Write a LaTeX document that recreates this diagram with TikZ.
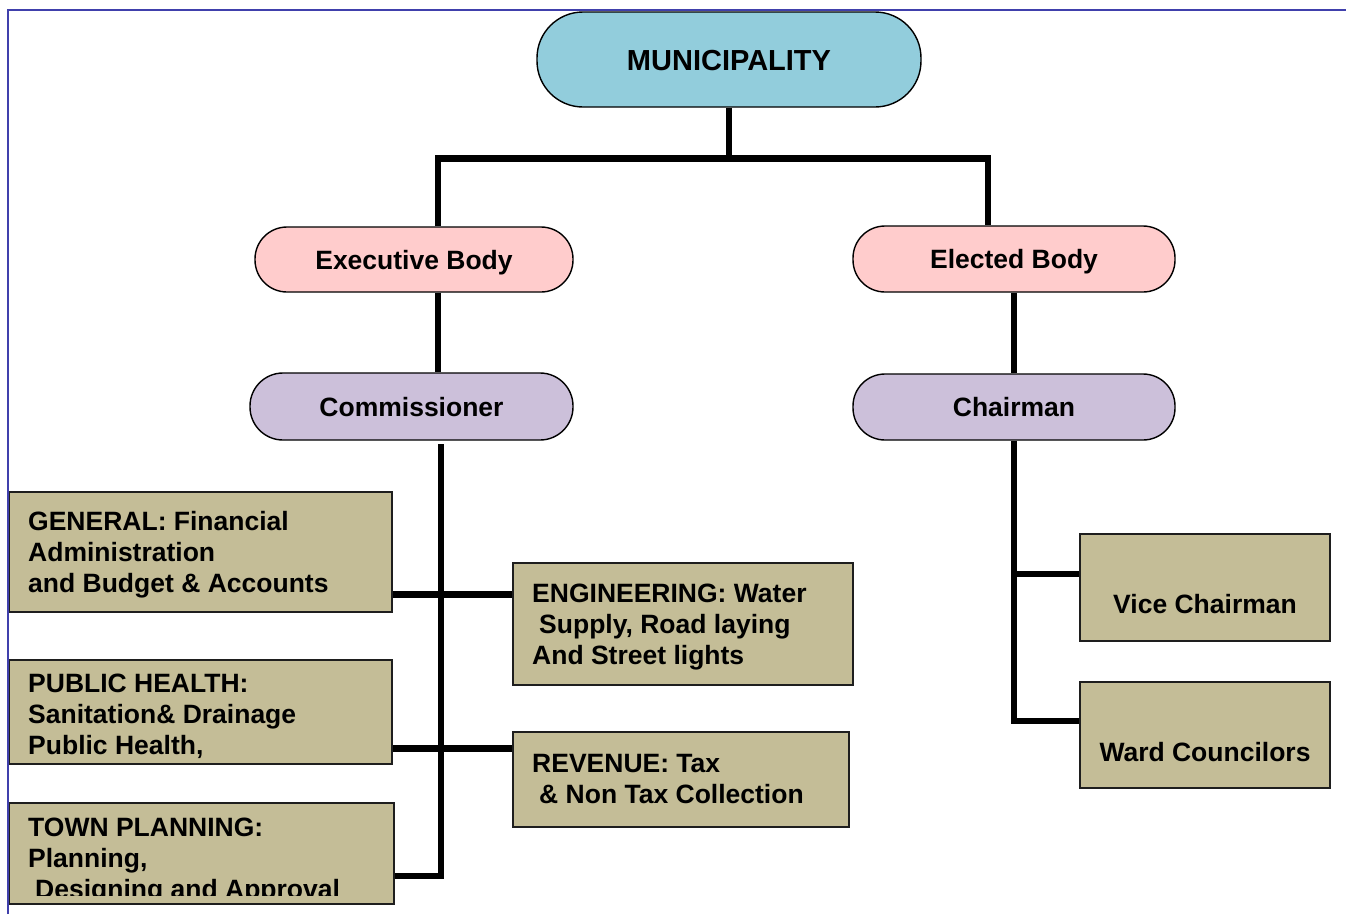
\documentclass[tikz,border=0pt]{standalone}
\usepackage{fontspec}
\setmainfont{Liberation Sans}
\definecolor{frameblue}{RGB}{64,64,172}
\definecolor{munifill}{HTML}{92CDDC}
\definecolor{pinkfill}{HTML}{FFCCCC}
\definecolor{lavfill}{HTML}{CCC0DA}
\definecolor{khaki}{HTML}{C4BD97}
\definecolor{edge}{RGB}{30,30,30}
\begin{document}
\begin{tikzpicture}[x=1pt,y=-1pt,
  txt/.style={font=\bfseries\fontsize{26.5}{31}\selectfont},
  oval/.style={draw=black, line width=1.4pt, inner sep=0pt, text height=19pt, text depth=0pt, txt},
  boxnode/.style={draw=edge, line width=1.6pt, fill=khaki, inner sep=0pt},
  boxtext/.style={txt, inner sep=0pt, align=left, anchor=base west},
  conn/.style={line width=6.5pt, black, line cap=butt, line join=miter}]
\useasboundingbox (0,0) rectangle (1346,914);
% frame
\draw[frameblue, line width=2.8pt] (8,914) -- (8,10) -- (1346,10);

% ovals
\node[oval, fill=munifill, minimum width=384pt, minimum height=95pt, rounded corners=46pt,
      font=\bfseries\fontsize{29}{34}\selectfont, text height=21pt] (muni) at (729,59.5) {MUNICIPALITY};
\node[oval, fill=pinkfill, minimum width=318pt, minimum height=65pt, rounded corners=32pt] (exec) at (414,259.5) {Executive Body};
\node[oval, fill=pinkfill, minimum width=322pt, minimum height=66pt, rounded corners=32pt] (elec) at (1014,259) {Elected Body};
\node[oval, fill=lavfill, minimum width=323pt, minimum height=67pt, rounded corners=33pt] (comm) at (411.5,406.5) {Commissioner};
\node[oval, fill=lavfill, minimum width=322pt, minimum height=66pt, rounded corners=32pt] (chair) at (1014,407) {Chairman};

% boxes
\node[boxnode, minimum width=382.5pt, minimum height=120pt] (gen) at (200.75,552) {};
\node[boxnode, minimum width=382.5pt, minimum height=104pt] (ph) at (200.75,712) {};
\node[boxnode, minimum width=384.5pt, minimum height=101pt] (tp) at (201.75,853.5) {};
\node[boxnode, minimum width=340pt, minimum height=122pt] (eng) at (683,624) {};
\node[boxnode, minimum width=336pt, minimum height=95pt] (rev) at (681,779.5) {};
\node[boxnode, minimum width=250pt, minimum height=107pt] (vice) at (1205,587.5) {};
\node[boxnode, minimum width=250pt, minimum height=106pt] (ward) at (1205,735) {};

% box texts (base anchor = baseline of last line)
\node[boxtext] (gent) at (28,592) {GENERAL: Financial\\Administration\\and Budget \& Accounts};
\node[boxtext] (pht) at (28,754.5) {PUBLIC HEALTH:\\Sanitation\& Drainage\\Public Health,};
\begin{scope}
\clip (10,804) rectangle (393,895);
\node[boxtext] (tpt) at (28,898) {TOWN PLANNING:\\Planning,\\\hspace*{7pt}Designing and Approval};
\end{scope}
\node[boxtext] (engt) at (532,664) {ENGINEERING: Water\\\hspace*{7pt}Supply, Road laying\\And Street lights};
\node[boxtext] (revt) at (532,803) {REVENUE: Tax\\\hspace*{7pt}\& Non Tax Collection};
\node[txt, inner sep=0pt, anchor=base] (vicet) at (1205,613) {Vice Chairman};
\node[txt, inner sep=0pt, anchor=base] (wardt) at (1205,761) {Ward Councilors};

% junction coordinates
\coordinate (xl) at (438,158.5);
\coordinate (xr) at (988,158.5);
\coordinate (cs) at (441,444);
\coordinate (cb) at (441,876);
\coordinate (h1) at (0,594.5);
\coordinate (h2) at (0,748.5);
\coordinate (h3) at (0,574);
\coordinate (h4) at (0,721);

% connectors
\draw[conn] (muni.south) -- (muni.south |- xl);
\draw[conn] (xl |- exec.north) -- (xl) -- (xr) -- (xr |- elec.north);
\draw[conn] (xl |- exec.south) -- (xl |- comm.north);
\draw[conn] (elec.south) -- (chair.north);
\draw[conn] (cs) -- (cb) -- (cb -| tp.east);
\draw[conn] (h1 -| gen.east) -- (h1 -| eng.west);
\draw[conn] (h2 -| ph.east) -- (h2 -| rev.west);
\draw[conn] (chair.south) -- (chair.south |- h4) -- (h4 -| ward.west);
\draw[conn] (h3 -| chair.south) -- (h3 -| vice.west);
\end{tikzpicture}
\end{document}
